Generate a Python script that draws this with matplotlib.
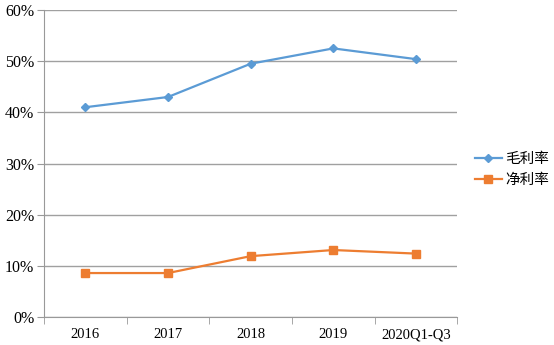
import matplotlib.pyplot as plt
from matplotlib.ticker import PercentFormatter, FixedLocator

categories = ['2016', '2017', '2018', '2019', '2020Q1-Q3']
gross_margin = [41.0, 43.0, 49.5, 52.5, 50.4]
net_margin = [8.6, 8.6, 11.9, 13.1, 12.4]

plt.rcParams['font.family'] = ['Liberation Serif', 'Noto Sans CJK SC']

fig = plt.figure(figsize=(5.54, 3.45), dpi=100)
ax = fig.add_axes([0.0794, 0.081, 0.746, 0.890])

x = list(range(len(categories)))
ax.plot(x, gross_margin, color='#5b9bd5', marker='D', markersize=4, linewidth=1.6, label='毛利率')
ax.plot(x, net_margin, color='#ed7d31', marker='s', markersize=6, linewidth=1.6, label='净利率')

ax.set_xlim(-0.5, len(categories) - 0.5)
ax.set_ylim(0, 60)
ax.set_yticks(range(0, 61, 10))
ax.yaxis.set_major_formatter(PercentFormatter(decimals=0))
ax.set_xticks(x)
ax.set_xticklabels(categories)
ax.xaxis.set_minor_locator(FixedLocator([i - 0.5 for i in range(len(categories) + 1)]))
ax.tick_params(axis='x', which='major', length=0, pad=8, labelsize=10.5)
ax.tick_params(axis='x', which='minor', length=5, color='#999999')
ax.tick_params(axis='y', length=5, color='#999999', labelsize=11.5, pad=2)

ax.grid(axis='y', color='#a0a0a0', linewidth=1)
ax.set_axisbelow(True)
for s in ['top', 'right']:
    ax.spines[s].set_visible(False)
for s in ['left', 'bottom']:
    ax.spines[s].set_color('#999999')

ax.legend(loc='center left', bbox_to_anchor=(1.01, 0.48), frameon=False,
          prop={'family': 'Noto Sans CJK SC', 'size': 10.5},
          handlelength=1.9, handletextpad=0.2, labelspacing=0.45)

fig.savefig('out.png', dpi=100)
